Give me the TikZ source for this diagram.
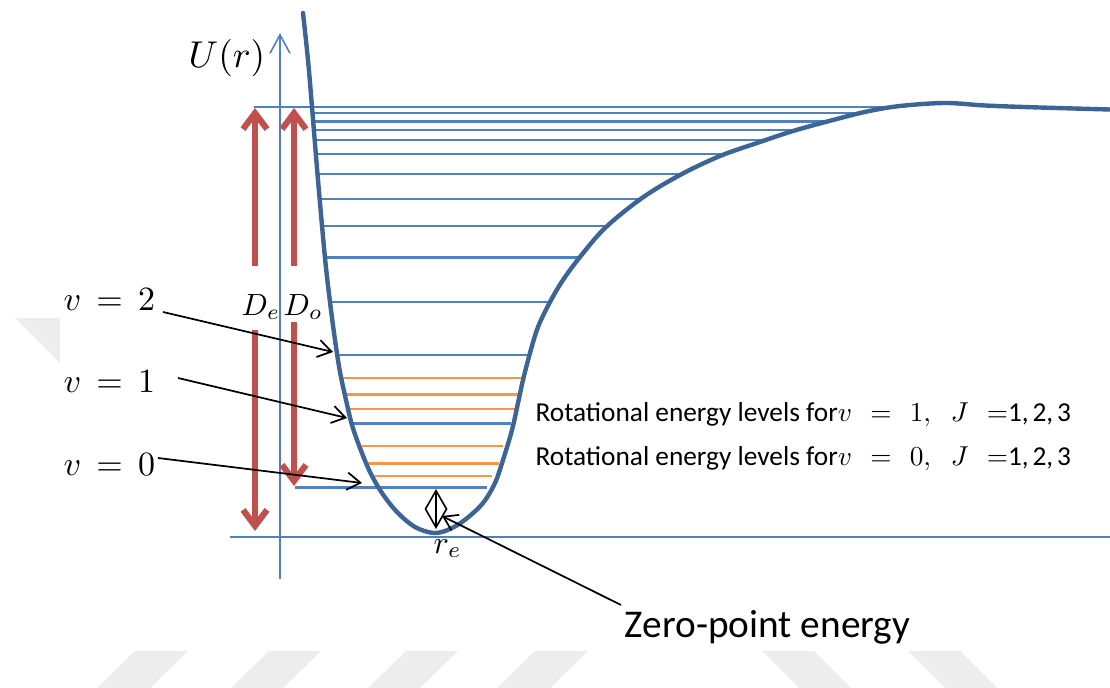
\documentclass[tikz,border=0pt]{standalone}
\usepackage{fontspec}
\newfontfamily\calib{Carlito}
\usetikzlibrary{arrows.meta}
\definecolor{curveblue}{HTML}{3C6595}
\definecolor{lvlblue}{HTML}{4F81BD}
\definecolor{lvlorange}{HTML}{F79646}
\definecolor{arrred}{HTML}{C0504D}
\definecolor{wmgrey}{HTML}{EDEDED}
\tikzset{
  wm/.style={fill=wmgrey, draw=none},
  curvestyle/.style={draw=curveblue, line width=3.3pt, line cap=round},
  level/.style={draw=lvlblue, line width=1.8pt},
  rotlevel/.style={draw=lvlorange, line width=1.8pt},
  axisline/.style={draw=lvlblue, line width=1.2pt, -{Straight Barb[length=14pt,width=15pt]}},
  redarr/.style={draw=arrred, line width=4.6pt, -{Straight Barb[length=12pt,width=18pt]}},
  ptr/.style={draw=black, line width=1.3pt, -{Straight Barb[length=10pt,width=13pt]}},
  dbl/.style={draw=black, line width=1.2pt, {Straight Barb[length=14pt,width=16pt]}-{Straight Barb[length=14pt,width=16pt]}},
  mlbl/.style={inner sep=0pt, anchor=base west},
}
\begin{document}
\begin{tikzpicture}[x=0.75pt,y=-0.75pt]
\useasboundingbox (0,0) rectangle (1110,688);
% watermark shapes
\fill[wm] (15,318) -- (60,318) -- (60,363) -- cycle;
\fill[wm] (97,688) -- (135,651) -- (188,651) -- (150,688) -- cycle;
\fill[wm] (231,688) -- (269,651) -- (321,651) -- (283,688) -- cycle;
\fill[wm] (368,688) -- (406,651) -- (458,651) -- (420,688) -- cycle;
\fill[wm] (497,688) -- (535,651) -- (588,651) -- (550,688) -- cycle;
\fill[wm] (762,651) -- (814,651) -- (851,688) -- (799,688) -- cycle;
\fill[wm] (908,651) -- (960,651) -- (997,688) -- (945,688) -- cycle;

% vibrational levels (left end / right end / height)
\foreach \xa/\xb/\yy in {254/905/107.3, 312.6/862/113.3, 313.4/828/121.7, 314.2/797/130,
  315.1/766/140, 316.4/725/154.3, 318.2/682/174.3, 320/641/199, 322.3/606/226,
  325/578/257.3, 330/548/301.7, 337/530/355, 353/511/423.3, 295/487/487.3} {
  \draw[level] (\xa,\yy) -- (\xb,\yy);
}
% rotational levels
\foreach \xa/\xb/\yy in {342/525/377.7, 346/518/394.3, 349/515/409, 362/503/445.7, 368/499/463.3, 375/492/476} {
  \draw[rotlevel] (\xa,\yy) -- (\xb,\yy);
}
% baseline and axis
\coordinate (bl1) at (230,536.7);
\coordinate (bl2) at (1110,536.7);
\draw[level] (bl1) -- (bl2);
\coordinate (axb) at (280,579);
\coordinate (axt) at (280,33);
\draw[axisline] (axb) -- (axt);

% the potential curve
\draw[curvestyle] plot[smooth, tension=0.55] coordinates {(303,13) (308,60) (312,107) (318,180) (325,258) (330,302) (335,340) (340,372) (346,400) (352,425) (360,448) (370,472) (382,493) (397,512) (415,527) (434,533) (450,529) (466,519) (483,503) (495,483) (503,460) (512,430) (518,403) (523,380) (530,353) (538,327) (550,302) (563,280) (580,257) (605,228) (642,198) (680,175) (720,156) (760,142) (793,131) (833,120) (867,111.5) (900,106) (945,103) (985,105.5) (1033,107.3) (1110,109.5)};

% red arrows D_e, D_o
\coordinate (deu0) at (255,266); \coordinate (deu1) at (255,108);
\coordinate (ded0) at (255,330); \coordinate (ded1) at (255,531);
\coordinate (dou0) at (294,266); \coordinate (dou1) at (294,108);
\coordinate (dod0) at (294,322); \coordinate (dod1) at (294,486);
\draw[redarr] (deu0) -- (deu1);
\draw[redarr] (ded0) -- (ded1);
\draw[redarr] (dou0) -- (dou1);
\draw[redarr] (dod0) -- (dod1);

% labels
\node[mlbl, scale=2.8] (U) at (188,68) {$U(r)$};
\node[mlbl, scale=2.3] (De) at (241,315) {$D_e$};
\node[mlbl, scale=2.3] (Do) at (283,315) {$D_o$};
\node[mlbl, scale=2.55] (v2) at (63,310) {$v\,=\,2$};
\node[mlbl, scale=2.55] (v1) at (63,392) {$v\,=\,1$};
\node[mlbl, scale=2.55] (v0) at (63,475) {$v\,=\,0$};
\node[mlbl, scale=2.4] (re) at (433,553) {$r_e$};
\node[mlbl, scale=2.05] (rot1) at (535,421) {\calib Rotational energy levels for$v\mskip7mu=\mskip7mu1,\mskip10mu J\mskip7mu=$1,\kern1.4pt2,\kern1.4pt3};
\node[mlbl, scale=2.05] (rot0) at (535,465) {\calib Rotational energy levels for$v\mskip7mu=\mskip7mu0,\mskip10mu J\mskip7mu=$1,\kern1.4pt2,\kern1.4pt3};
\node[mlbl, scale=2.95] (zpe) at (624,637) {\calib Zero-point energy};

% black pointer arrows
\coordinate (v2s) at (163,312); \coordinate (v2t) at (333,352);
\coordinate (v1s) at (178,378); \coordinate (v1t) at (347,418);
\coordinate (v0s) at (158,458); \coordinate (v0t) at (362,483);
\draw[ptr] (v2s) -- (v2t);
\draw[ptr] (v1s) -- (v1t);
\draw[ptr] (v0s) -- (v0t);
\coordinate (zp0) at (436,489); \coordinate (zp1) at (436,529);
\draw[dbl] (zp0) -- (zp1);
\coordinate (zs) at (621,605); \coordinate (zt) at (442,516);
\draw[ptr] (zs) -- (zt);
\end{tikzpicture}
\end{document}
